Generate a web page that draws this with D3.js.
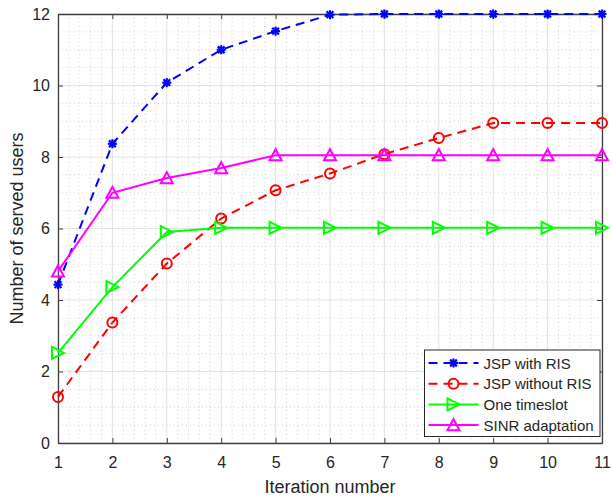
<!DOCTYPE html>
<html><head><meta charset="utf-8">
<script src="https://cdn.jsdelivr.net/npm/d3@7"></script>
<style>body{margin:0;background:#fff}svg{display:block}text{font-family:"Liberation Sans",Arial,sans-serif;fill:#262626}</style>
</head><body><svg id="c" width="612" height="498"></svg>
<script>
const iterations = [1,2,3,4,5,6,7,8,9,10,11];
const jspWithRIS = [4.43,8.37,10.08,11.0,11.52,11.98,12,12,12,12,12];
const jspWithoutRIS = [1.29,3.37,5.02,6.28,7.07,7.54,8.08,8.53,8.95,8.95,8.95];
const oneTimeslot = [2.52,4.36,5.9,6.02,6.02,6.02,6.02,6.02,6.02,6.02,6.02];
const sinrAdaptation = [4.8,7.0,7.41,7.69,8.05,8.05,8.05,8.05,8.05,8.05,8.05];
const seriesNames = ["JSP with RIS","JSP without RIS","One timeslot","SINR adaptation"];
const xTicks = [1,2,3,4,5,6,7,8,9,10,11];
const yTicks = [0,2,4,6,8,10,12];

const series = [
  {name: seriesNames[0], values: jspWithRIS, color: "#0000ff", dash: "9,6", marker: "star"},
  {name: seriesNames[1], values: jspWithoutRIS, color: "#ff0000", dash: "9,6", marker: "circle"},
  {name: seriesNames[2], values: oneTimeslot, color: "#00ff00", dash: null, marker: "tri-right"},
  {name: seriesNames[3], values: sinrAdaptation, color: "#ff00ff", dash: null, marker: "tri-up"}
];

const W = 612, H = 498, m = {l:58, r:10, t:14, b:55};
const svg = d3.select("#c");
const x = d3.scaleLinear().domain([1,11]).range([m.l, W-m.r]);
const y = d3.scaleLinear().domain([0,12]).range([H-m.b, m.t]);
const g = svg.append("g");

// minor grid
const xMinor = d3.range(1, 11.0001, 0.2).filter(v => Math.abs(v - Math.round(v)) > 1e-6);
const yMinor = d3.range(0, 12.0001, 0.5).filter(v => Math.abs(v/2 - Math.round(v/2)) > 1e-6);
g.selectAll(".xm").data(xMinor).join("line")
  .attr("x1", d=>x(d)).attr("x2", d=>x(d)).attr("y1", y(0)).attr("y2", y(12))
  .attr("stroke", "#c8c8c8").attr("stroke-width", 0.8).attr("stroke-dasharray", "1,3");
g.selectAll(".ym").data(yMinor).join("line")
  .attr("y1", d=>y(d)).attr("y2", d=>y(d)).attr("x1", x(1)).attr("x2", x(11))
  .attr("stroke", "#c8c8c8").attr("stroke-width", 0.8).attr("stroke-dasharray", "1,3");
// major grid
g.selectAll(".xg").data(xTicks).join("line")
  .attr("x1", d=>x(d)).attr("x2", d=>x(d)).attr("y1", y(0)).attr("y2", y(12))
  .attr("stroke", "#e3e3e3").attr("stroke-width", 1);
g.selectAll(".yg").data(yTicks).join("line")
  .attr("y1", d=>y(d)).attr("y2", d=>y(d)).attr("x1", x(1)).attr("x2", x(11))
  .attr("stroke", "#e3e3e3").attr("stroke-width", 1);

// axes via d3 axis
const axCol = "#404040";
const axBottom = svg.append("g").attr("transform", `translate(0,${y(0)})`)
  .call(d3.axisBottom(x).tickValues(xTicks).tickSizeInner(-5).tickSizeOuter(0).tickPadding(14));
const axLeft = svg.append("g").attr("transform", `translate(${x(1)},0)`)
  .call(d3.axisLeft(y).tickValues(yTicks).tickSizeInner(-5).tickSizeOuter(0).tickPadding(8));
const axTop = svg.append("g").attr("transform", `translate(0,${y(12)})`)
  .call(d3.axisTop(x).tickValues(xTicks).tickSizeInner(-5).tickSizeOuter(0).tickFormat(""));
const axRight = svg.append("g").attr("transform", `translate(${x(11)},0)`)
  .call(d3.axisRight(y).tickValues(yTicks).tickSizeInner(-5).tickSizeOuter(0).tickFormat(""));
[axBottom,axLeft,axTop,axRight].forEach(a => {
  a.selectAll("path").attr("stroke", axCol).attr("stroke-width", 1.3);
  a.selectAll("line").attr("stroke", axCol).attr("stroke-width", 1);
  a.selectAll("text").attr("font-size", 16).attr("font-family", "Liberation Sans, Arial, sans-serif").attr("fill", "#262626");
});

// lines
const line = d3.line().x((d,i)=>x(iterations[i])).y(d=>y(d));
function drawMarker(sel, type, color, cx, cy) {
  if (type === "star") {
    const r = 4.5;
    const p = sel.append("g").attr("transform", `translate(${cx},${cy})`);
    [[0,-r,0,r],[-r,0,r,0],[-r*0.75,-r*0.75,r*0.75,r*0.75],[-r*0.75,r*0.75,r*0.75,-r*0.75]].forEach(c =>
      p.append("line").attr("x1",c[0]).attr("y1",c[1]).attr("x2",c[2]).attr("y2",c[3])
       .attr("stroke", color).attr("stroke-width", 2.2));
  } else if (type === "circle") {
    sel.append("circle").attr("cx", cx).attr("cy", cy).attr("r", 5)
      .attr("fill", "none").attr("stroke", color).attr("stroke-width", 2);
  } else if (type === "tri-right") {
    const s = 6;
    sel.append("path").attr("d", `M${cx-s},${cy-s}L${cx+s},${cy}L${cx-s},${cy+s}Z`)
      .attr("fill", "none").attr("stroke", color).attr("stroke-width", 2);
  } else if (type === "tri-up") {
    const s = 6;
    sel.append("path").attr("d", `M${cx-s},${cy+s*0.85}L${cx},${cy-s}L${cx+s},${cy+s*0.85}Z`)
      .attr("fill", "none").attr("stroke", color).attr("stroke-width", 2);
  }
}
series.forEach(s => {
  svg.append("path").datum(s.values).attr("d", line)
    .attr("fill", "none").attr("stroke", s.color).attr("stroke-width", 2)
    .attr("stroke-dasharray", s.dash);
  const mg = svg.append("g");
  s.values.forEach((v,i) => drawMarker(mg, s.marker, s.color, x(iterations[i]), y(v)));
});

// axis labels
svg.append("text").attr("x", (x(1)+x(11))/2).attr("y", 493).attr("text-anchor", "middle")
  .attr("font-size", 18).text("Iteration number");
svg.append("text").attr("transform", `translate(23,${(y(0)+y(12))/2}) rotate(-90)`)
  .attr("text-anchor", "middle").attr("font-size", 18).text("Number of served users");

// legend
const lg = svg.append("g");
const lx0 = 424.5, ly0 = 350, lw = 175.5, lh = 86.5;
lg.append("rect").attr("x", lx0).attr("y", ly0).attr("width", lw).attr("height", lh)
  .attr("fill", "#fff").attr("stroke", "#262626").attr("stroke-width", 1);
series.forEach((s,i) => {
  const yy = ly0 + 13 + i*20.7;
  lg.append("line").attr("x1", lx0+4).attr("x2", lx0+54).attr("y1", yy).attr("y2", yy)
    .attr("stroke", s.color).attr("stroke-width", 2).attr("stroke-dasharray", s.dash);
  drawMarker(lg, s.marker, s.color, lx0+29, yy);
  lg.append("text").attr("x", lx0+59).attr("y", yy+5.5).attr("font-size", 15).text(s.name);
});
</script></body></html>
